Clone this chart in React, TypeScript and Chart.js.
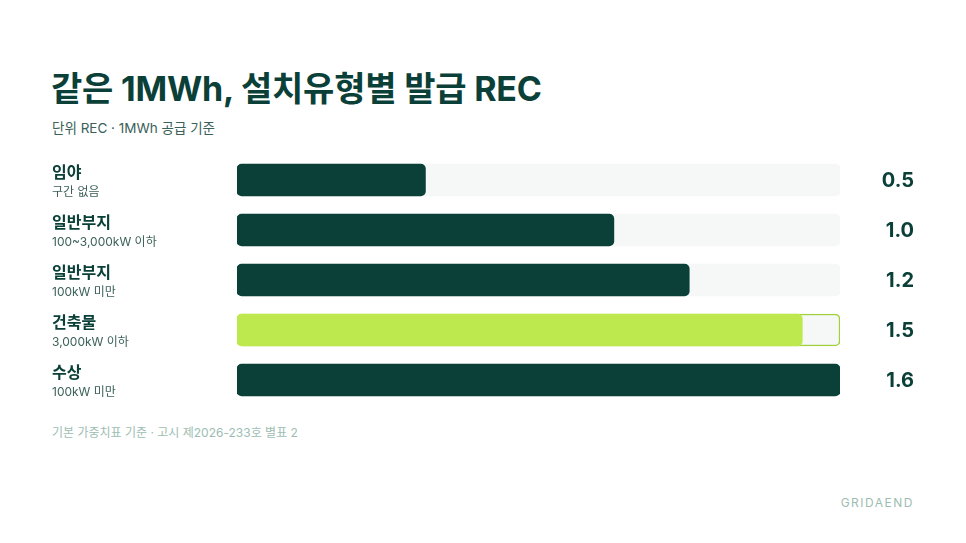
import { useEffect, useRef } from 'react';
import { Chart, registerables } from 'chart.js';

Chart.register(...registerables);

const C = {
  dark: '#0a4038',
  lime: '#bde94e',
  track: '#f6f8f7',
  sub: '#3b6158',
  muted: '#9dbdb2'
};

// 설치유형별 REC 가중치
const CATEGORIES = ['임야', '일반부지', '일반부지', '건축물', '수상'];
const SUBLABELS = ['구간 없음', '100~3,000kW 이하', '100kW 미만', '3,000kW 이하', '100kW 미만'];
const VALUES = [0.5, 1.0, 1.2, 1.5, 1.6];
const HIGHLIGHT = [false, false, false, true, false];
const AXIS_MAX = 1.6;

const FONT = 'Inter, "Noto Sans CJK KR", sans-serif';

const rowLabels = {
  id: 'rowLabels',
  afterDatasetsDraw(chart: Chart) {
    const { ctx } = chart;
    const y = chart.scales.y;
    ctx.save();
    CATEGORIES.forEach((cat, i) => {
      const cy = y.getPixelForValue(i);
      ctx.textBaseline = 'middle';
      ctx.textAlign = 'left';
      ctx.fillStyle = C.dark;
      ctx.font = `700 16px ${FONT}`;
      ctx.fillText(cat, 52, cy - 7);
      ctx.fillStyle = C.sub;
      ctx.font = `400 12px ${FONT}`;
      ctx.fillText(SUBLABELS[i], 52, cy + 12);
      ctx.textAlign = 'right';
      ctx.fillStyle = C.dark;
      ctx.font = `700 20px ${FONT}`;
      ctx.fillText(VALUES[i].toFixed(1), 914, cy + 1);
    });
    ctx.restore();
  }
};

export default function App() {
  const canvasRef = useRef<HTMLCanvasElement | null>(null);

  useEffect(() => {
    let chart: Chart | null = null;
    if (canvasRef.current) {
      chart = new Chart(canvasRef.current, {
        type: 'bar',
        data: {
          labels: CATEGORIES,
          datasets: [
            {
              data: VALUES,
              backgroundColor: HIGHLIGHT.map((h) => (h ? C.lime : C.dark)),
              borderRadius: 5,
              borderSkipped: false,
              barThickness: 32,
              grouped: false,
              order: 1
            },
            {
              data: VALUES.map(() => AXIS_MAX),
              backgroundColor: C.track,
              borderColor: HIGHLIGHT.map((h) => (h ? '#9fd13a' : C.track)),
              borderWidth: HIGHLIGHT.map((h) => (h ? 1.5 : 0)),
              borderRadius: 5,
              borderSkipped: false,
              barThickness: 32,
              grouped: false,
              order: 2
            }
          ]
        },
        options: {
          indexAxis: 'y',
          animation: false,
          responsive: false,
          maintainAspectRatio: false,
          layout: { padding: { left: 237, right: 126, top: 0, bottom: 0 } },
          plugins: {
            legend: { display: false },
            tooltip: { enabled: false }
          },
          scales: {
            x: { display: false, min: 0, max: AXIS_MAX },
            y: { display: false }
          }
        },
        plugins: [rowLabels]
      });
    }
    return () => {
      if (chart) chart.destroy();
    };
  }, []);

  return (
    <div
      style={{
        position: 'fixed',
        left: 0,
        top: 0,
        width: 966,
        height: 543,
        background: '#ffffff',
        fontFamily: FONT,
        color: C.dark
      }}
    >
      <div style={{ position: 'absolute', left: 51, top: 66, fontSize: 34, fontWeight: 700, letterSpacing: -0.2, lineHeight: '46px' }}>
        같은 1MWh, 설치유형별 발급 REC
      </div>
      <div style={{ position: 'absolute', left: 52, top: 118, fontSize: 13.5, color: C.sub, lineHeight: '20px' }}>
        단위 REC · 1MWh 공급 기준
      </div>
      <canvas ref={canvasRef} width={966} height={250} style={{ position: 'absolute', left: 0, top: 155, width: 966, height: 250 }} />
      <div style={{ position: 'absolute', left: 52, top: 424, fontSize: 12, color: C.muted, lineHeight: '18px' }}>
        기본 가중치표 기준 · 고시 제2026-233호 별표 2
      </div>
      <div style={{ position: 'absolute', right: 52, top: 494, fontSize: 12, color: C.muted, letterSpacing: 1.5, lineHeight: '18px' }}>
        GRIDAEND
      </div>
    </div>
  );
}
